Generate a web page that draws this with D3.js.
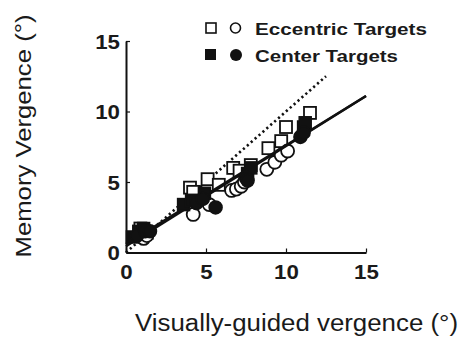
<!DOCTYPE html>
<html>
<head>
<meta charset="utf-8">
<script src="https://cdn.jsdelivr.net/npm/d3@7"></script>
<style>
  html, body { margin: 0; padding: 0; background: #fff; }
  svg { display: block; }
  text { font-family: "Liberation Sans", Arial, Helvetica, sans-serif; fill: #1a1a1a; }
</style>
</head>
<body>
<svg id="chart" width="463" height="343"></svg>
<script>
// Memory vergence vs visually-guided vergence (degrees)
const xTicks = [0, 5, 10, 15];
const yTicks = [0, 5, 10, 15];

// Eccentric targets: open squares (subject A) and open circles (subject B)
const eccSquares = [
  [0.9, 1.7], [1.3, 1.4], [4.0, 4.6], [4.2, 4.3], [5.1, 5.2], [5.8, 4.8],
  [6.7, 6.0], [7.1, 5.8], [7.8, 6.2], [8.9, 7.4], [9.7, 7.9], [10.0, 8.9], [11.5, 9.9]
];
const eccCircles = [
  [1.1, 1.0], [1.3, 1.2], [4.2, 2.7], [5.2, 3.4], [6.6, 4.4], [6.9, 4.5],
  [7.2, 4.7], [7.4, 5.0], [8.8, 5.9], [9.3, 6.4], [9.7, 6.9], [10.1, 7.2]
];
// Center targets: filled squares and filled circles
const ctrSquares = [
  [0.4, 1.1], [0.8, 1.5], [1.1, 1.7], [3.6, 3.4], [4.1, 3.7], [4.9, 4.2],
  [7.6, 5.6], [7.8, 6.0], [11.1, 8.9], [11.2, 9.2]
];
const ctrCircles = [
  [0.7, 1.2], [1.2, 1.5], [1.5, 1.5], [4.4, 3.5], [4.8, 3.8], [5.6, 3.2],
  [7.5, 5.3], [7.6, 5.1], [10.9, 8.2], [11.1, 8.5]
];

// Regression fits (intercept, slope) and the unity line extent
const fitIntercepts = [0.45, 0.6];
const fitSlopes = [0.71, 0.70];
const unityEnd = 12.5;

const legendLabels = ["Eccentric Targets", "Center Targets"];
const xTitle = "Visually-guided vergence (°)";
const yTitle = "Memory Vergence (°)";

const svg = d3.select("#chart");
const x = d3.scaleLinear().domain([0, 15]).range([126, 366]);
const y = d3.scaleLinear().domain([0, 15]).range([252.5, 41]);

// Axes
const xAxis = d3.axisBottom(x).tickValues(xTicks).tickSizeInner(-4).tickSizeOuter(0).tickPadding(12.5);
const yAxis = d3.axisLeft(y).tickValues(yTicks).tickSizeInner(-4).tickSizeOuter(0).tickPadding(6);

const gx = svg.append("g").attr("transform", `translate(0,${y(0)})`).call(xAxis);
const gy = svg.append("g").attr("transform", `translate(${x(0)},0)`).call(yAxis);

[gx, gy].forEach(g => {
  g.select(".domain").attr("stroke", "#111").attr("stroke-width", 2);
  g.selectAll(".tick line").attr("stroke", "#111").attr("stroke-width", 1.2);
  g.selectAll(".tick text")
    .attr("fill", "#1a1a1a")
    .style("font-family", '"Liberation Sans", Arial, sans-serif')
    .style("font-size", "19.5px")
    .style("font-weight", "bold")
    .attr("textLength", d => String(d).length * 12.4)
    .attr("lengthAdjust", "spacingAndGlyphs");
});
gy.selectAll(".tick text").attr("dy", "0.38em");

// Unity line
svg.append("line")
  .attr("x1", x(0)).attr("y1", y(0))
  .attr("x2", x(unityEnd)).attr("y2", y(unityEnd))
  .attr("stroke", "#111").attr("stroke-width", 2.6)
  .attr("stroke-dasharray", "2.2,3");

const S = 12, R = 6.5;
const plot = svg.append("g");

function squares(data, fill) {
  plot.selectAll(null).data(data).enter().append("rect")
    .attr("x", d => x(d[0]) - S / 2).attr("y", d => y(d[1]) - S / 2)
    .attr("width", S).attr("height", S)
    .attr("fill", fill).attr("stroke", "#111").attr("stroke-width", 1.8);
}
function circles(data, fill) {
  plot.selectAll(null).data(data).enter().append("circle")
    .attr("cx", d => x(d[0])).attr("cy", d => y(d[1])).attr("r", R)
    .attr("fill", fill).attr("stroke", "#111").attr("stroke-width", 1.8);
}

squares(eccSquares, "#fff");
circles(eccCircles, "#fff");

// Regression lines
fitIntercepts.forEach((b, i) => {
  const m = fitSlopes[i];
  svg.append("line")
    .attr("x1", x(0)).attr("y1", y(b))
    .attr("x2", x(15)).attr("y2", y(b + m * 15))
    .attr("stroke", "#111").attr("stroke-width", 2.4);
});

const plot2 = svg.append("g");
plot2.selectAll(null).data(ctrSquares).enter().append("rect")
  .attr("x", d => x(d[0]) - S / 2).attr("y", d => y(d[1]) - S / 2)
  .attr("width", S).attr("height", S)
  .attr("fill", "#111").attr("stroke", "#111").attr("stroke-width", 1.5);
plot2.selectAll(null).data(ctrCircles).enter().append("circle")
  .attr("cx", d => x(d[0])).attr("cy", d => y(d[1])).attr("r", R)
  .attr("fill", "#111").attr("stroke", "#111").attr("stroke-width", 1.5);

// Legend
const legend = svg.append("g");
legend.append("rect").attr("x", 206).attr("y", 23).attr("width", 10).attr("height", 10)
  .attr("fill", "#fff").attr("stroke", "#111").attr("stroke-width", 1.6);
legend.append("circle").attr("cx", 235.5).attr("cy", 28).attr("r", 5)
  .attr("fill", "#fff").attr("stroke", "#111").attr("stroke-width", 1.6);
legend.append("rect").attr("x", 205).attr("y", 49).attr("width", 11).attr("height", 11)
  .attr("fill", "#111");
legend.append("circle").attr("cx", 236).attr("cy", 55).attr("r", 6)
  .attr("fill", "#111");
const legendWidths = [172, 143];
legend.selectAll("text").data(legendLabels).enter().append("text")
  .attr("x", 255).attr("y", (d, i) => 34.5 + i * 27)
  .style("font-size", "17px").style("font-weight", "bold")
  .attr("textLength", (d, i) => legendWidths[i])
  .attr("lengthAdjust", "spacingAndGlyphs")
  .text(d => d);

// Axis titles
svg.append("text")
  .attr("x", 135).attr("y", 331)
  .style("font-size", "23px")
  .attr("textLength", 323).attr("lengthAdjust", "spacingAndGlyphs")
  .text(xTitle);

svg.append("text")
  .attr("transform", "translate(31,136) rotate(-90)")
  .attr("text-anchor", "middle")
  .style("font-size", "22px")
  .attr("textLength", 243).attr("lengthAdjust", "spacingAndGlyphs")
  .text(yTitle);
</script>
</body>
</html>
